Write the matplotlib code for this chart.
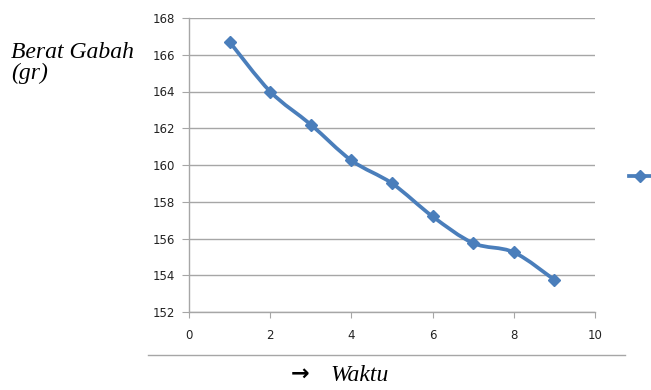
import matplotlib.pyplot as plt
from matplotlib.lines import Line2D
from matplotlib.path import Path
from matplotlib.patches import PathPatch

# Grain weight measured over time
waktu = [1, 2, 3, 4, 5, 6, 7, 8, 9]
berat = [166.7, 164.0, 162.2, 160.25, 159.0, 157.2, 155.75, 155.25, 153.75]

y_ticks = [152, 154, 156, 158, 160, 162, 164, 166, 168]
x_ticks = [0, 2, 4, 6, 8, 10]

blue = '#4a7ebb'
grey = '#a6a6a6'

fig = plt.figure(figsize=(6.51, 3.9), dpi=100)
ax = fig.add_axes([189 / 651, 1 - 312 / 390, (595 - 189) / 651, (312 - 18) / 390])

# smoothed line through the points (cubic Bezier, Catmull-Rom style handles)
n = len(waktu)
verts = [(waktu[0], berat[0])]
codes = [Path.MOVETO]
for i in range(n - 1):
    p0 = max(i - 1, 0)
    p3 = min(i + 2, n - 1)
    c1 = (waktu[i] + (waktu[i + 1] - waktu[p0]) / 6,
          berat[i] + (berat[i + 1] - berat[p0]) / 6)
    c2 = (waktu[i + 1] - (waktu[p3] - waktu[i]) / 6,
          berat[i + 1] - (berat[p3] - berat[i]) / 6)
    verts += [c1, c2, (waktu[i + 1], berat[i + 1])]
    codes += [Path.CURVE4] * 3
ax.add_patch(PathPatch(Path(verts, codes), facecolor='none', edgecolor=blue,
                       lw=2.7, capstyle='round', joinstyle='round', zorder=3))
ax.plot(waktu, berat, ls='none', marker='D', markersize=6.5, color=blue, zorder=4)

ax.set_xlim(0, 10)
ax.set_ylim(152, 168)
ax.set_xticks(x_ticks)
ax.set_yticks(y_ticks)
ax.grid(axis='y', color=grey, lw=1)
ax.set_axisbelow(True)

for side in ['top', 'right']:
    ax.spines[side].set_visible(False)
for side in ['left', 'bottom']:
    ax.spines[side].set_color(grey)
    ax.spines[side].set_linewidth(1)

ax.tick_params(axis='y', direction='out', length=5, color=grey, pad=5,
               labelsize=8.5, labelcolor='#222222')
ax.tick_params(axis='x', direction='out', length=4, color=grey, pad=8,
               labelsize=8.5, labelcolor='#222222')

# axis titles in italic serif
serif = ['Liberation Serif', 'DejaVu Serif']
fig.text(11 / 651, 1 - 79 / 390, 'Berat Gabah\n(gr)', family=serif, style='italic',
         fontsize=17, linespacing=1.0, va='baseline', ha='left')
fig.text(291 / 651, 1 - 380 / 390, '\u2192', family=['DejaVu Sans'], fontsize=16,
         fontweight='bold', va='baseline', ha='left')
fig.text(330 / 651, 1 - 381 / 390, 'Waktu', family=serif, style='italic',
         fontsize=17, va='baseline', ha='left')

# separator under the axis
fig.add_artist(Line2D([148 / 651, 625 / 651], [1 - 355 / 390, 1 - 355 / 390],
                      color=grey, lw=1))

# legend marker without text
leg_handle = Line2D([], [], color=blue, lw=2.7, marker='D', markersize=6.5)
fig.legend(handles=[leg_handle], labels=[''], loc='center left',
           bbox_to_anchor=(622 / 651, 1 - 177 / 390), frameon=False,
           handlelength=1.6, borderpad=0, handletextpad=0)

fig.savefig('out.png', dpi=100, facecolor='white')
